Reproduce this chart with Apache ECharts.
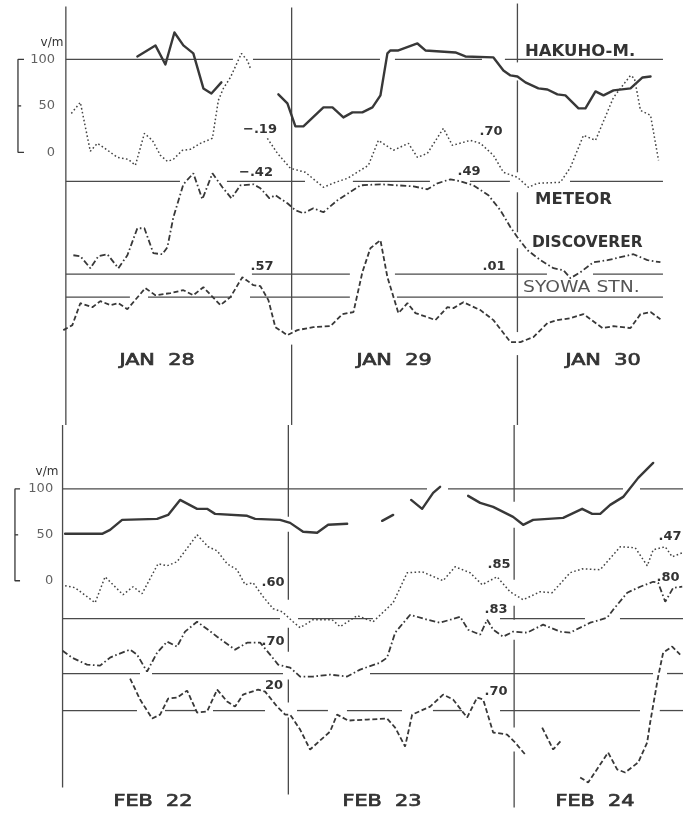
<!DOCTYPE html>
<html>
<head>
<meta charset="utf-8">
<script src="https://cdn.jsdelivr.net/npm/echarts@6/dist/echarts.min.js"></script>
<style>
  html, body { margin: 0; padding: 0; background: #ffffff; }
  #chart { width: 683px; height: 815px; }
</style>
</head>
<body>
<div id="chart"></div>
<script>
// Atmospheric electric field at four stations, two 3-day periods.
// x: hours from 00h of the first day, y: V/m on the panel's offset scale.
const dayHours = [0, 24, 48];
const dayLabelsJan = ['JAN  28', 'JAN  29', 'JAN  30'];
const dayLabelsFeb = ['FEB  22', 'FEB  23', 'FEB  24'];
const scaleTicks = [0, 50, 100];
const stationNames = ['HAKUHO-M.', 'METEOR', 'DISCOVERER', 'SYOWA STN.'];
const refLevelsJan = [100, -31.2, -131.2, -155.9];
const refLevelsFeb = [100, -41.3, -101, -141.3];
const corrJan = ['\u2212.19', '\u2212.42', '.70', '.49', '.57', '.01'];
const corrFeb = ['.60', '.70', '20', '.85', '.83', '.47', '.80', '.70'];

// ---- JAN 28-30 ----
const hakuhoJan = [
  [[7.60,103.2],[9.52,115.1],[10.58,94.6],[11.54,129.0],[12.49,115.1],[13.55,106.5],[14.62,68.8],[15.47,63.4],[16.53,75.3]],
  [[22.59,62.4],[23.55,52.7],[24.40,28.0],[25.25,28.0],[27.38,48.4],[28.34,48.4],[29.50,37.6],[30.46,43.0],[31.52,43.0],[32.59,48.4],
   [33.44,61.3],[34.18,106.5],[34.50,109.7],[35.35,109.7],[37.37,117.2],[38.22,109.7],[39.81,108.6],[41.41,107.5],[42.47,103.2],
   [45.45,102.2],[46.51,88.2],[47.26,82.8],[48.00,81.7],[48.85,75.3],[50.23,68.8],[51.19,67.7],[52.25,62.4],[53.10,61.3],
   [54.49,47.3],[55.23,47.3],[56.30,65.6],[57.15,61.3],[58.21,66.7],[60.02,68.8],[61.30,80.6],[62.15,81.7]]
];
const meteorJan = [
  [[0.58,41.9],[1.54,53.8],[2.60,1.1],[3.35,9.7],[3.99,5.4],[5.48,-5.4],[6.64,-7.5],[7.39,-14.0],[8.35,20.4],[9.20,12.9],
   [10.05,-3.2],[10.79,-9.7],[11.43,-7.5],[12.39,2.2],[13.24,3.2],[14.30,9.7],[15.58,15.1],[16.21,55.9],[16.74,68.8],
   [17.49,80.6],[18.66,106.5],[19.30,98.9],[19.62,90.3]],
  [[21.42,15.1],[22.49,-1.1],[23.87,-17.2],[25.46,-21.5],[27.38,-37.6],[28.65,-32.3],[29.93,-28.0],[32.16,-14.0],[33.22,12.9],
   [34.82,2.2],[36.41,9.7],[37.37,-5.4],[38.43,-1.1],[40.13,25.8],[41.09,7.5],[43.00,12.9],[44.07,9.7],[45.45,-3.2],
   [46.51,-21.5],[48.00,-26.9],[49.17,-37.6],[50.13,-33.3],[52.57,-32.3],[53.64,-16.1],[55.02,18.3],[56.30,12.9],
   [58.21,59.1],[60.02,82.8],[60.44,79.6],[61.08,45.2],[62.15,39.8],[63.00,-8.6]]
];
const discovererJan = [
  [[0.80,-110.8],[1.54,-111.8],[2.60,-124.7],[3.46,-111.8],[4.41,-109.7],[5.58,-124.7],[6.54,-110.8],[7.60,-81.7],[8.35,-81.7],
   [9.30,-108.6],[10.26,-109.7],[10.79,-102.2],[11.43,-69.9],[12.49,-34.4],[13.55,-22.6],[14.51,-50.5],[15.58,-22.6],
   [16.64,-37.6],[17.60,-49.5],[18.55,-35.5],[19.94,-34.4],[20.68,-38.7],[21.64,-49.5],[22.27,-46.2],[23.55,-54.8],
   [24.40,-62.4],[25.25,-65.6],[26.31,-60.2],[27.38,-64.5],[28.87,-51.6],[31.31,-35.5],[33.44,-34.4],[36.95,-36.6],
   [38.43,-39.8],[39.50,-33.3],[40.88,-29.0],[41.94,-31.2],[43.32,-35.5],[44.92,-46.2],[46.19,-62.4],[47.26,-80.6],
   [48.00,-91.4],[49.07,-105.4],[50.45,-116.1],[51.83,-124.7],[52.89,-126.9],[53.64,-135.5],[54.70,-129.0],[56.08,-118.3],
   [57.57,-116.1],[58.95,-112.9],[60.33,-109.7],[61.82,-116.1],[63.20,-118.3]]
];
const syowaJan = [
  [[-0.27,-191.4],[0.69,-186.0],[1.54,-162.4],[2.82,-166.7],[3.67,-160.2],[4.73,-164.5],[5.58,-162.4],[6.54,-168.8],
   [8.45,-146.2],[9.52,-153.8],[11.11,-151.6],[12.49,-148.4],[13.55,-153.8],[14.62,-145.2],[16.43,-164.5],[17.49,-155.9],
   [18.76,-134.4],[19.94,-143.0],[20.68,-144.1],[21.53,-159.1],[22.27,-188.2],[23.55,-196.8],[24.61,-191.4],[26.31,-188.2],
   [28.12,-187.1],[29.40,-174.2],[30.57,-172.0],[31.52,-129.0],[32.37,-103.2],[33.44,-94.6],[34.18,-134.4],[35.35,-173.1],
   [36.31,-162.4],[37.16,-173.1],[38.43,-177.4],[39.28,-180.6],[40.56,-166.7],[41.20,-167.7],[42.26,-161.3],[44.07,-169.9],
   [45.45,-180.6],[47.26,-204.3],[48.32,-204.3],[49.70,-198.9],[51.19,-183.9],[52.25,-180.6],[53.64,-178.5],[55.02,-174.2],
   [57.04,-189.2],[58.21,-187.1],[60.02,-189.2],[61.08,-174.2],[62.15,-172.0],[63.20,-179.6]]
];

// ---- FEB 22-24 ----
const hakuhoFeb = [
  [[0.27,51.1],[4.20,51.1],[5.05,55.4],[6.33,66.3],[10.05,67.4],[11.22,71.7],[12.49,88.0],[14.30,78.3],[15.36,78.3],
   [16.21,72.8],[19.62,70.7],[20.47,67.4],[23.12,66.3],[24.19,63.0],[25.57,53.3],[27.06,52.2],[28.23,60.9],[30.25,62.0]],
  [[33.97,65.2],[35.14,71.7]],
  [[37.05,88.0],[38.22,78.3],[39.39,95.7],[40.13,102.2]],
  [[43.11,92.4],[44.39,84.8],[45.77,80.4],[47.89,69.6],[48.96,60.9],[50.02,66.3],[53.21,68.5],[55.23,78.3],[56.30,72.8],
   [57.15,72.8],[58.21,82.6],[59.59,91.3],[61.19,112.0],[62.78,128.3]]
];
const meteorFeb = [
  [[0.27,-5.4],[1.33,-7.6],[3.46,-23.9],[4.52,4.3],[6.43,-15.2],[7.50,-6.5],[8.45,-14.1],[10.15,18.5],[11.11,16.3],
   [12.17,20.7],[14.30,50.0],[15.47,37.0],[16.43,32.6],[17.49,18.5],[18.55,12.0],[19.40,-4.3],[20.25,-2.2],[21.32,-17.4],
   [22.38,-30.4],[23.34,-33.7],[24.50,-44.6],[25.25,-51.1],[26.63,-42.4],[28.65,-42.4],[29.50,-50.0],[31.31,-38.0],
   [33.01,-44.6],[35.14,-23.9],[36.63,8.7],[38.22,9.8],[40.45,0.0],[41.73,15.2],[43.32,8.7],[44.60,-4.3],[46.19,4.3],
   [47.57,-12.0],[48.96,-20.7],[50.76,-12.0],[52.04,-13.0],[53.95,8.7],[55.23,13.0],[57.15,12.0],[59.28,37.0],
   [60.87,35.9],[62.15,16.3],[62.78,33.7],[64.06,37.0],[64.80,26.1],[65.87,30.4]]
];
const discovererFeb = [
  [[0.0,-76.1],[1.01,-83.7],[2.60,-91.3],[3.99,-92.4],[5.05,-83.7],[5.79,-80.4],[7.18,-75.0],[7.92,-80.4],[8.98,-98.9],
   [10.05,-78.3],[11.11,-66.3],[12.17,-71.7],[13.02,-55.4],[14.30,-44.6],[15.47,-53.3],[16.43,-60.9],[18.34,-75.0],
   [19.62,-67.4],[21.00,-67.4],[22.06,-80.4],[22.91,-91.3],[24.19,-94.6],[25.25,-104.3],[26.63,-104.3],[28.44,-102.2],
   [30.25,-104.3],[31.63,-96.7],[33.76,-89.1],[34.50,-83.7],[35.35,-56.5],[36.95,-37.0],[38.75,-42.4],[40.13,-45.7],
   [42.26,-39.1],[43.11,-53.3],[44.39,-58.7],[45.13,-42.4],[45.77,-53.3],[46.83,-60.9],[47.89,-55.4],[49.38,-56.5],
   [51.08,-47.8],[52.89,-55.4],[53.95,-56.5],[56.08,-45.7],[57.89,-40.2],[58.53,-31.5],[60.02,-13.0],[61.40,-6.5],
   [62.78,-1.1],[63.31,-2.2],[64.06,-22.8],[64.91,-7.6],[65.87,-6.5]]
];
const syowaFeb = [
  [[7.18,-106.5],[8.24,-129.3],[9.52,-150.0],[10.37,-145.7],[11.22,-128.3],[12.17,-127.2],[13.24,-119.6],[14.30,-143.5],
   [15.36,-142.4],[16.43,-118.5],[17.49,-131.5],[18.34,-137.0],[19.19,-123.9],[20.78,-118.5],[21.53,-120.7],[22.81,-137.0],
   [23.66,-145.7],[24.19,-145.7],[25.25,-162.0],[26.31,-183.7],[28.44,-164.1],[29.18,-145.7],[30.35,-152.2],[32.37,-151.1],
   [34.50,-150.0],[35.35,-159.8],[36.41,-180.4],[37.16,-145.7],[39.07,-137.0],[40.45,-123.9],[41.51,-129.3],[43.00,-148.9],
   [44.07,-127.2],[44.71,-129.3],[45.77,-165.2],[47.26,-167.4],[48.11,-176.1],[49.17,-189.1]],
  [[50.98,-159.8],[52.15,-183.7],[53.10,-172.8]],
  [[55.02,-214.1],[55.87,-219.6],[57.99,-187.0],[58.95,-205.4],[59.80,-208.7],[61.19,-197.8],[62.14,-176.1],[62.46,-154.3],
   [63.31,-104.3],[63.84,-78.3],[64.80,-71.7],[65.65,-80.4]]
];

// ---- drawing ----
const ink = '#383838';
const rule = '#4a4a4a';
const styles = {
  solid:   { color: ink, width: 2.4, type: 'solid', cap: 'round', join: 'round' },
  dotted:  { color: '#444', width: 1.5, type: [1.6, 2.4], cap: 'butt' },
  dashdot: { color: ink, width: 1.8, type: [6, 2.6, 1.6, 2.6], cap: 'butt' },
  dashed:  { color: ink, width: 1.8, type: [5, 2.6], cap: 'butt' }
};

// pieces of the hand-ruled reference lines (hours) and day lines (V/m)
const panels = [
  {
    grid: { left: 0, right: 0, top: -0.52, height: 431.52 },
    x: [-7, 65.6], y: [-300, 164],
    traces: [[hakuhoJan, 'solid'], [meteorJan, 'dotted'], [discovererJan, 'dashdot'], [syowaJan, 'dashed']],
    levels: refLevelsJan,
    levelPieces: [
      [[0,17.76],[19.89,33.39],[34.98,44.23],[46.67,63.47]],
      [[0,12.13],[17.12,25.42],[30.51,38.70],[42.95,47.20],[53.59,63.47]],
      [[0,17.97],[19.78,30.19],[34.98,51.14],[56.03,63.47]],
      [[0,6.81],[8.73,17.65],[19.57,30.19],[35.19,63.47]]
    ],
    dayPieces: [
      [[157,-293.5]],
      [[156,-191],[-207,-293.5]],
      [[160.2,96.8],[77.4,-21.5],[-43.0,-86.0],[-103.2,-193.5],[-218.3,-293.5]]
    ],
    bracketX: [-5.09, -4.45, -4.75], tickX: -1.15
  },
  {
    grid: { left: 0, right: 0, top: 420, height: 395.6 },
    x: [-6.65, 65.95], y: [-255, 175],
    traces: [[hakuhoFeb, 'solid'], [meteorFeb, 'dotted'], [discovererFeb, 'dashdot'], [syowaFeb, 'dashed']],
    levels: refLevelsFeb,
    levelPieces: [
      [[0,38.74],[40.97,59.57],[61.38,66]],
      [[0,23.11],[25.03,32.99],[46.50,55.53],[59.25,66]],
      [[0,8.23],[9.51,23.43],[32.68,62.76],[64.25,66]],
      [[0,7.91],[10.89,14.29],[15.99,21.52],[24.92,28.21],[30.23,36.08],[39.37,42.46],[46.50,61.38],[63.48,66]]
    ],
    dayPieces: [
      [[169.6,-225]],
      [[169.6,69.6],[53.3,-20.7],[-51.1,-77.2],[-107.6,-132.6],[-148.9,-232.6]],
      [[169.6,85.9],[57.6,1.1],[-27.2,-42.4],[-64.1,-159.8],[-185.9,-246.7]]
    ],
    bracketX: [-5.06, -4.52, -4.72], tickX: -1.0
  }
];

const grids = [], xAxes = [], yAxes = [], series = [];
function seg(i, data, lineStyle) {
  series.push({
    type: 'line', xAxisIndex: i, yAxisIndex: i, data: data, symbol: 'none',
    silent: true, animation: false, clip: false, lineStyle: lineStyle
  });
}
const ruleStyle = { color: rule, width: 1.3, type: 'solid' };

panels.forEach((p, i) => {
  grids.push(p.grid);
  xAxes.push({ type: 'value', gridIndex: i, min: p.x[0], max: p.x[1], show: false });
  yAxes.push({ type: 'value', gridIndex: i, min: p.y[0], max: p.y[1], show: false });

  // horizontal reference levels
  p.levels.forEach((lv, k) => {
    p.levelPieces[k].forEach(([a, b]) => seg(i, [[a, lv], [b, lv]], ruleStyle));
  });
  // day boundaries
  dayHours.forEach((h, k) => {
    p.dayPieces[k].forEach(([a, b]) => seg(i, [[h, a], [h, b]], ruleStyle));
  });
  // V/m scale bracket
  const [bx, tx, mx] = p.bracketX;
  const top = scaleTicks[scaleTicks.length - 1], bot = scaleTicks[0], mid = scaleTicks[1];
  seg(i, [[tx, top], [bx, top], [bx, bot], [tx, bot]], { color: ink, width: 1.3 });
  seg(i, [[bx, mid], [mx, mid]], { color: ink, width: 1.3 });
  series.push({
    type: 'scatter', xAxisIndex: i, yAxisIndex: i, symbolSize: 0, silent: true, animation: false,
    data: scaleTicks.map(v => [p.tickX, v]),
    label: {
      show: true, position: 'left', distance: 0, formatter: q => String(q.value[1]),
      fontFamily: 'DejaVu Sans', fontSize: 13, color: '#3a3a3a'
    }
  });
  // station traces
  p.traces.forEach(([pieces, st]) => pieces.forEach(d => seg(i, d, styles[st])));
});

function txt(text, x, y, opt, sx) {
  return {
    type: 'text', x: x, y: y, scaleX: sx || 1, silent: true,
    style: Object.assign({
      text: text, fill: '#333', align: 'center', verticalAlign: 'middle',
      font: 'bold 14px "DejaVu Sans"'
    }, opt || {})
  };
}
const numFont = 'bold 13px "DejaVu Sans"';
const nameFont = 'bold 15px "DejaVu Sans"';
// day captions: regular face with a light outline, widened like stencil lettering
const dayStyle = { font: '16px "DejaVu Sans"', fill: '#333', stroke: '#333', lineWidth: 0.7 };
const dayScale = 1.3;
const graphics = [
  txt('v/m', 52, 43, { font: '12px "DejaVu Sans"' }),
  txt('v/m', 47, 472, { font: '12px "DejaVu Sans"' }),
  txt(stationNames[0], 525, 52, { align: 'left', font: nameFont }, 1.1),
  txt(stationNames[1], 535, 200, { align: 'left', font: nameFont }, 1.1),
  txt(stationNames[2], 532, 243, { align: 'left', font: nameFont }, 1.03),
  txt(stationNames[3], 523, 288, { align: 'left', font: '15px "DejaVu Sans"', fill: '#555' }, 1.25),
  txt(dayLabelsJan[0], 157, 361, dayStyle, dayScale),
  txt(dayLabelsJan[1], 394, 361, dayStyle, dayScale),
  txt(dayLabelsJan[2], 603, 361, dayStyle, dayScale),
  txt(dayLabelsFeb[0], 153, 802, dayStyle, dayScale),
  txt(dayLabelsFeb[1], 382, 802, dayStyle, dayScale),
  txt(dayLabelsFeb[2], 595, 802, dayStyle, dayScale),
  txt(corrJan[0], 260, 130, { font: numFont }),
  txt(corrJan[1], 256, 173, { font: numFont }),
  txt(corrJan[2], 491, 132, { font: numFont }),
  txt(corrJan[3], 469, 172, { font: numFont }),
  txt(corrJan[4], 262, 267, { font: numFont }),
  txt(corrJan[5], 494, 267, { font: numFont }),
  txt(corrFeb[0], 273, 583, { font: numFont }),
  txt(corrFeb[1], 273, 642, { font: numFont }),
  txt(corrFeb[2], 274, 686, { font: numFont }),
  txt(corrFeb[3], 499, 565, { font: numFont }),
  txt(corrFeb[4], 496, 610, { font: numFont }),
  txt(corrFeb[5], 670, 537, { font: numFont }),
  txt(corrFeb[6], 668, 578, { font: numFont }),
  txt(corrFeb[7], 496, 692, { font: numFont })
];

const chart = echarts.init(document.getElementById('chart'), null, { renderer: 'canvas' });
chart.setOption({
  backgroundColor: '#ffffff',
  animation: false,
  grid: grids,
  xAxis: xAxes,
  yAxis: yAxes,
  series: series,
  graphic: graphics
});
</script>
</body>
</html>
